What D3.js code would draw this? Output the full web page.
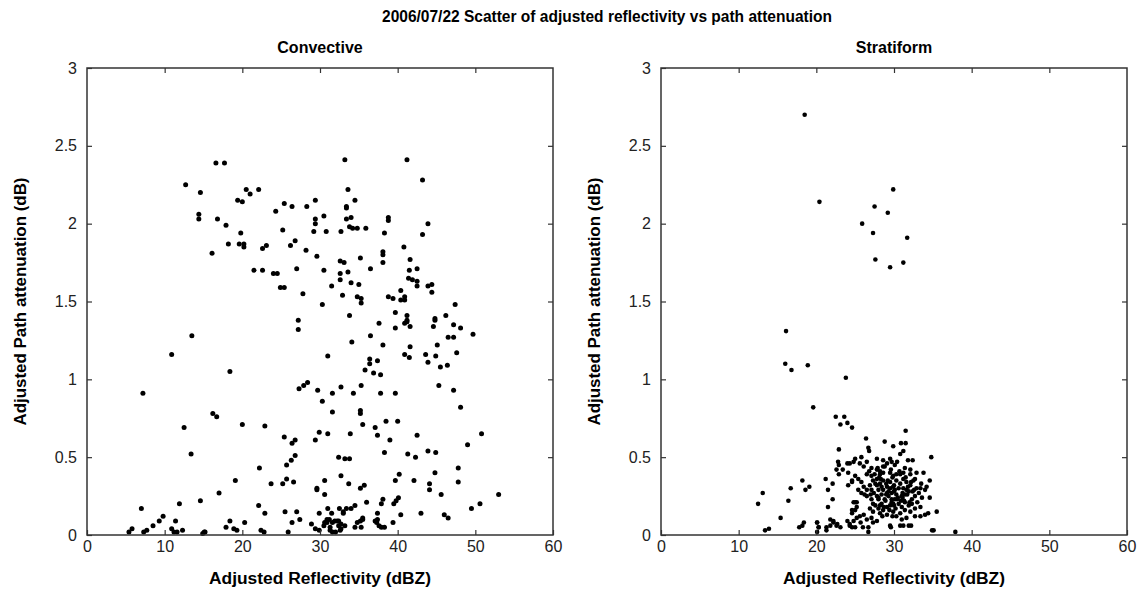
<!DOCTYPE html>
<html><head><meta charset="utf-8">
<script src="https://cdn.jsdelivr.net/npm/d3@7"></script>
<style>
html,body{margin:0;padding:0;background:#fff;}
svg{display:block;font-family:"Liberation Sans",Arial,Helvetica,sans-serif;}
</style></head>
<body>
<svg id="chart" width="1138" height="597"></svg>
<script>
const mainTitle = "2006/07/22 Scatter of adjusted reflectivity vs path attenuation";
const panelTitles = ["Convective", "Stratiform"];
const xLabel = "Adjusted Reflectivity (dBZ)";
const yLabel = "Adjusted Path attenuation (dB)";
const xTicks = [0, 10, 20, 30, 40, 50, 60];
const yTicks = [0, 0.5, 1, 1.5, 2, 2.5, 3];
const yTickLabels = ["0", "0.5", "1", "1.5", "2", "2.5", "3"];

// Convective: reflectivity (dBZ)
const convX = [
12.7,16.6,17.7,14.6,14.4,14.4,16.8,17.9,20.5,21.0,22.1,19.4,20.0,19.8,18.2,19.6,20.2,20.2,16.1,22.6,
23.1,21.5,22.6,24.0,24.5,24.9,25.4,27.8,24.3,25.4,26.4,25.2,26.8,26.2,28.2,27.0,28.3,29.4,29.4,29.4,
29.2,29.6,33.2,41.2,43.2,33.6,34.5,33.4,33.4,30.5,30.8,33.4,34.0,33.8,34.2,34.8,32.7,35.9,38.8,38.8,
38.3,43.9,43.2,40.8,32.6,33.1,35.2,38.1,38.1,38.1,41.6,30.5,32.6,33.6,36.5,41.5,42.5,41.4,41.9,42.5,
42.5,32.6,31.5,34.0,35.0,43.9,44.4,44.4,32.9,34.8,35.3,35.3,38.8,39.4,40.4,40.9,40.4,40.9,30.3,47.4,
33.8,39.7,41.2,44.8,46.2,37.6,39.7,41.2,40.9,41.6,41.2,44.8,44.6,47.2,48.1,49.7,46.5,47.2,36.5,34.1,
38.1,41.6,45.1,47.6,31.0,40.9,41.5,43.6,43.9,44.9,45.5,46.4,36.4,36.4,37.4,35.8,36.9,37.8,27.3,27.9,
28.4,29.7,30.3,31.6,32.7,34.3,35.3,37.8,39.7,45.3,47.2,48.1,31.6,35.2,35.2,35.5,37.1,37.4,38.5,40.0,
29.9,29.4,31.0,33.9,39.0,42.5,38.3,41.3,42.3,43.9,44.9,50.8,49.0,32.4,33.2,33.8,47.8,44.8,32.7,40.2,
30.6,39.7,42.1,47.8,33.7,35.2,35.7,29.6,29.6,30.6,44.1,44.1,45.6,53.0,36.0,38.1,37.9,39.5,39.8,40.1,
50.6,49.5,34.5,29.9,31.0,31.5,32.5,33.0,33.4,34.0,33.0,37.4,40.4,43.0,46.0,46.5,27.4,30.9,30.6,30.9,
28.9,29.4,29.9,31.6,32.4,32.7,33.2,32.7,31.3,31.6,32.0,34.5,35.3,35.5,35.2,34.8,37.1,37.3,37.6,37.9,
38.3,37.4,39.4,30.5,31.2,31.3,31.9,32.2,32.4,32.6,35.5,22.2,23.7,25.2,25.7,26.6,25.7,26.3,26.8,26.4,
26.8,22.1,22.9,25.5,27.0,26.4,22.4,22.8,25.9,27.2,27.2,13.5,10.9,18.4,7.2,16.2,16.7,20.0,22.9,12.5,
25.4,13.4,19.1,17.0,14.6,11.9,7.0,9.8,9.3,8.5,7.7,7.3,5.8,5.4,11.4,10.9,11.2,11.6,12.3,15.1,
15.2,14.9,17.9,18.4,18.9,19.3,20.3
];
// Convective: path attenuation (dB)
const convY = [
2.25,2.39,2.39,2.20,2.06,2.03,2.03,1.99,2.22,2.19,2.22,2.15,2.14,1.94,1.87,1.87,1.87,1.85,1.81,1.84,
1.86,1.70,1.70,1.68,1.68,1.59,1.59,1.55,2.08,2.13,2.11,1.96,1.89,1.86,1.83,1.71,2.11,2.15,2.03,2.00,
1.95,1.79,2.41,2.41,2.28,2.22,2.15,2.11,2.10,2.05,1.95,2.03,2.04,1.98,1.97,1.97,1.95,1.97,2.04,2.02,
1.94,2.00,1.93,1.85,1.76,1.75,1.78,1.82,1.80,1.75,1.77,1.70,1.68,1.69,1.71,1.70,1.71,1.65,1.64,1.63,
1.60,1.64,1.60,1.62,1.61,1.60,1.61,1.56,1.54,1.53,1.52,1.49,1.53,1.52,1.57,1.53,1.51,1.51,1.48,1.48,
1.41,1.43,1.41,1.39,1.41,1.36,1.33,1.38,1.36,1.34,1.37,1.38,1.34,1.35,1.33,1.29,1.27,1.27,1.28,1.24,
1.22,1.21,1.22,1.17,1.15,1.16,1.14,1.16,1.11,1.15,1.08,1.09,1.13,1.10,1.12,1.06,1.04,1.03,0.94,0.96,
0.98,0.93,0.86,0.91,0.95,0.91,0.96,0.91,0.91,0.96,0.93,0.82,0.79,0.80,0.78,0.71,0.69,0.64,0.73,0.73,
0.66,0.61,0.65,0.65,0.61,0.64,0.53,0.52,0.50,0.54,0.53,0.65,0.58,0.50,0.49,0.49,0.43,0.40,0.38,0.39,
0.35,0.35,0.35,0.34,0.33,0.30,0.32,0.29,0.30,0.26,0.33,0.29,0.26,0.26,0.21,0.23,0.20,0.20,0.22,0.24,
0.20,0.17,0.19,0.14,0.17,0.14,0.17,0.15,0.17,0.17,0.14,0.14,0.13,0.14,0.13,0.11,0.10,0.10,0.08,0.08,
0.07,0.04,0.03,0.08,0.09,0.07,0.06,0.04,0.03,0.02,0.02,0.05,0.05,0.10,0.09,0.08,0.09,0.08,0.06,0.05,
0.05,0.10,0.08,0.06,0.10,0.05,0.09,0.09,0.06,0.03,0.11,0.43,0.33,0.33,0.36,0.34,0.45,0.48,0.51,0.59,
0.61,0.19,0.14,0.15,0.15,0.08,0.03,0.02,0.02,1.38,1.32,1.28,1.16,1.05,0.91,0.78,0.76,0.71,0.70,0.69,
0.63,0.52,0.35,0.27,0.22,0.20,0.17,0.12,0.09,0.06,0.03,0.02,0.04,0.02,0.09,0.04,0.02,0.02,0.03,0.02,
0.02,0.01,0.05,0.09,0.04,0.03,0.08
];

// Stratiform: reflectivity (dBZ)
const stratX = [
18.5,20.4,27.5,25.9,27.3,27.6,29.9,29.2,31.2,31.7,29.5,
16.1,16.0,16.8,18.9,23.8,19.6,22.5,23.6,23.1,24.0,24.6,26.4,26.7,28.8,29.9,30.9,31.5,31.5,22.9,26.8,
12.5,13.1,13.4,13.9,15.4,16.4,16.7,18.2,18.6,19.1,17.8,18.4,20.1,20.3,20.1,21.2,21.5,22.1,21.5,22.1,
22.8,22.9,22.6,22.9,23.4,24.0,24.1,24.1,24.6,21.3,21.8,22.2,22.7,23.1,25.0,25.2,24.6,24.0,24.3,24.6,
25.7,26.0,30.8,31.2,34.8,25.8,27.8,28.6,29.5,31.8,32.4,24.3,24.8,25.0,25.6,26.1,26.5,27.1,27.8,28.2,
28.8,29.1,29.7,30.1,32.1,33.8,34.6,24.6,25.0,
25.4,25.8,26.1,26.5,26.9,27.3,27.8,28.2,28.6,29.1,29.5,29.9,30.3,30.8,31.2,31.6,32.1,32.5,32.9,
25.4,25.8,26.5,27.1,27.6,28.0,28.4,28.8,29.3,29.7,30.1,30.6,31.0,31.4,31.9,32.3,32.7,33.2,33.6,
26.9,27.3,28.2,28.6,29.1,29.9,30.3,30.8,32.1,32.7,33.4,34.6,25.2,24.8,25.0,24.6,25.2,24.8,24.3,25.0,
25.6,26.1,26.5,27.1,27.3,27.8,26.7,26.7,29.5,30.8,31.9,31.6,32.7,33.4,34.0,34.4,35.5,34.9,37.9,
27.1,28.0,28.6,29.5,30.1,31.2,31.9,28.4,29.1,27.8,30.3,31.0,31.4,27.8,29.9,31.6,27.3,28.2,29.5,29.9,
29.1,28.0,29.7,31.4,28.6,29.5,30.3,31.2,28.2,32.1,32.7,32.9,26.5,27.1,34.2,34.0,33.4,
18.2,20.1,20.3,21.3,21.8,22.2,22.6,29.6,31.2,32.2,35.1,
27.6,28.4,29.3,30.0,30.6,31.1,31.8,32.4,28.0,28.9,29.7,30.4,31.3,32.0,27.4,28.3,29.0,29.8,30.5,31.5,
32.2,28.7,29.4,30.2,30.9,31.7,27.9,28.6,29.6,30.7,31.4,29.2,30.0,30.8,28.5,29.8,31.0,32.6,26.2,26.8,
27.5,33.0,33.5,28.1,29.0,30.0,31.1,32.3,27.0,30.4
];
// Stratiform: path attenuation (dB)
const stratY = [
2.70,2.14,2.11,2.00,1.94,1.77,2.22,2.07,1.75,1.91,1.72,
1.31,1.10,1.06,1.09,1.01,0.82,0.76,0.76,0.71,0.72,0.69,0.62,0.56,0.60,0.57,0.59,0.59,0.67,0.55,0.54,
0.20,0.27,0.03,0.04,0.11,0.22,0.30,0.35,0.29,0.31,0.05,0.08,0.08,0.05,0.02,0.36,0.29,0.33,0.18,0.23,
0.47,0.45,0.42,0.39,0.42,0.46,0.40,0.32,0.34,0.05,0.10,0.09,0.07,0.05,0.21,0.18,0.16,0.09,0.07,0.05,
0.08,0.05,0.52,0.54,0.50,0.50,0.49,0.48,0.49,0.48,0.48,0.46,0.47,0.49,0.46,0.44,0.47,0.43,0.42,0.41,
0.44,0.46,0.47,0.45,0.42,0.40,0.35,0.35,0.38,
0.36,0.34,0.31,0.29,0.32,0.35,0.36,0.33,0.35,0.31,0.34,0.38,0.35,0.33,0.36,0.34,0.32,0.35,0.30,
0.29,0.27,0.25,0.23,0.19,0.17,0.20,0.23,0.25,0.27,0.23,0.20,0.18,0.16,0.19,0.23,0.25,0.27,0.24,
0.17,0.15,0.14,0.16,0.13,0.15,0.12,0.14,0.15,0.17,0.18,0.24,0.21,0.21,0.16,0.14,0.11,0.09,0.06,0.05,
0.12,0.13,0.10,0.11,0.08,0.09,0.05,0.02,0.06,0.06,0.06,0.11,0.12,0.12,0.13,0.14,0.15,0.03,0.02,
0.29,0.29,0.29,0.30,0.29,0.30,0.28,0.26,0.27,0.25,0.26,0.25,0.26,0.32,0.31,0.29,0.20,0.19,0.19,0.20,
0.18,0.23,0.23,0.21,0.40,0.40,0.39,0.40,0.39,0.39,0.36,0.40,0.39,0.38,0.31,0.29,0.30,
0.06,0.08,0.05,0.03,0.06,0.08,0.06,0.05,0.06,0.06,0.03,
0.33,0.31,0.28,0.32,0.30,0.27,0.31,0.28,0.24,0.22,0.21,0.23,0.22,0.21,0.27,0.36,0.33,0.37,0.24,0.37,
0.34,0.18,0.16,0.17,0.22,0.26,0.43,0.44,0.42,0.41,0.43,0.35,0.28,0.39,0.12,0.12,0.10,0.29,0.26,0.41,
0.39,0.21,0.33,0.37,0.26,0.19,0.24,0.20,0.26,0.47
];

const svg = d3.select("#chart");
const W = 1138, H = 597;
svg.append("rect").attr("width", W).attr("height", H).attr("fill", "#fff");

const FONT = '"Liberation Sans",Arial,Helvetica,sans-serif';
const yRange = [535, 68];
const panels = [
  {x0: 87, x1: 553, title: panelTitles[0], xs: convX, ys: convY, r: 2.5, ylabX: 26},
  {x0: 661, x1: 1127, title: panelTitles[1], xs: stratX, ys: stratY, r: 2.3, ylabX: 600}
];

svg.append("text")
  .attr("x", 607).attr("y", 22)
  .attr("text-anchor", "middle")
  .attr("font-size", 16).attr("font-weight", "bold")
  .attr("fill", "#000")
  .attr("textLength", 450).attr("lengthAdjust", "spacingAndGlyphs")
  .text(mainTitle);

panels.forEach(p => {
  const x = d3.scaleLinear().domain([0, 60]).range([p.x0, p.x1]);
  const y = d3.scaleLinear().domain([0, 3]).range(yRange);
  const g = svg.append("g");

  g.append("g").selectAll("circle")
    .data(p.xs.map((v, i) => [v, p.ys[i]]))
    .join("circle")
    .attr("cx", d => x(d[0]))
    .attr("cy", d => y(d[1]))
    .attr("r", p.r)
    .attr("fill", "#000");

  const axStyle = sel => {
    sel.select(".domain").remove();
    sel.selectAll(".tick line").attr("stroke", "#333").attr("stroke-width", 1.2);
    sel.selectAll(".tick text").attr("fill", "#222").attr("font-size", 16).attr("font-family", FONT);
  };

  g.append("g").attr("transform", `translate(0,${yRange[0]})`)
    .call(d3.axisBottom(x).tickValues(xTicks).tickFormat(d3.format("d")).tickSize(-5).tickPadding(6))
    .call(axStyle);
  g.append("g").attr("transform", `translate(0,${yRange[1]})`)
    .call(d3.axisTop(x).tickValues(xTicks.slice(1, -1)).tickFormat("").tickSize(-5))
    .call(axStyle);
  g.append("g").attr("transform", `translate(${p.x0},0)`)
    .call(d3.axisLeft(y).tickValues(yTicks).tickFormat((d, i) => yTickLabels[i]).tickSize(-5).tickPadding(10))
    .call(axStyle);
  g.append("g").attr("transform", `translate(${p.x1},0)`)
    .call(d3.axisRight(y).tickValues(yTicks.slice(1, -1)).tickFormat("").tickSize(-5))
    .call(axStyle);

  g.append("rect")
    .attr("x", p.x0).attr("y", yRange[1])
    .attr("width", p.x1 - p.x0).attr("height", yRange[0] - yRange[1])
    .attr("fill", "none").attr("stroke", "#333").attr("stroke-width", 1.5);

  const cx = (p.x0 + p.x1) / 2;
  g.append("text")
    .attr("x", cx).attr("y", 53)
    .attr("text-anchor", "middle")
    .attr("font-size", 16).attr("font-weight", "bold").attr("fill", "#000")
    .text(p.title);

  g.append("text")
    .attr("x", cx).attr("y", 584)
    .attr("text-anchor", "middle")
    .attr("font-size", 16).attr("font-weight", "bold").attr("fill", "#000")
    .attr("textLength", 222).attr("lengthAdjust", "spacingAndGlyphs")
    .text(xLabel);

  g.append("text")
    .attr("transform", `translate(${p.ylabX},${(yRange[0] + yRange[1]) / 2}) rotate(-90)`)
    .attr("text-anchor", "middle")
    .attr("font-size", 16).attr("font-weight", "bold").attr("fill", "#000")
    .attr("textLength", 248).attr("lengthAdjust", "spacingAndGlyphs")
    .text(yLabel);
});
</script>
</body></html>
